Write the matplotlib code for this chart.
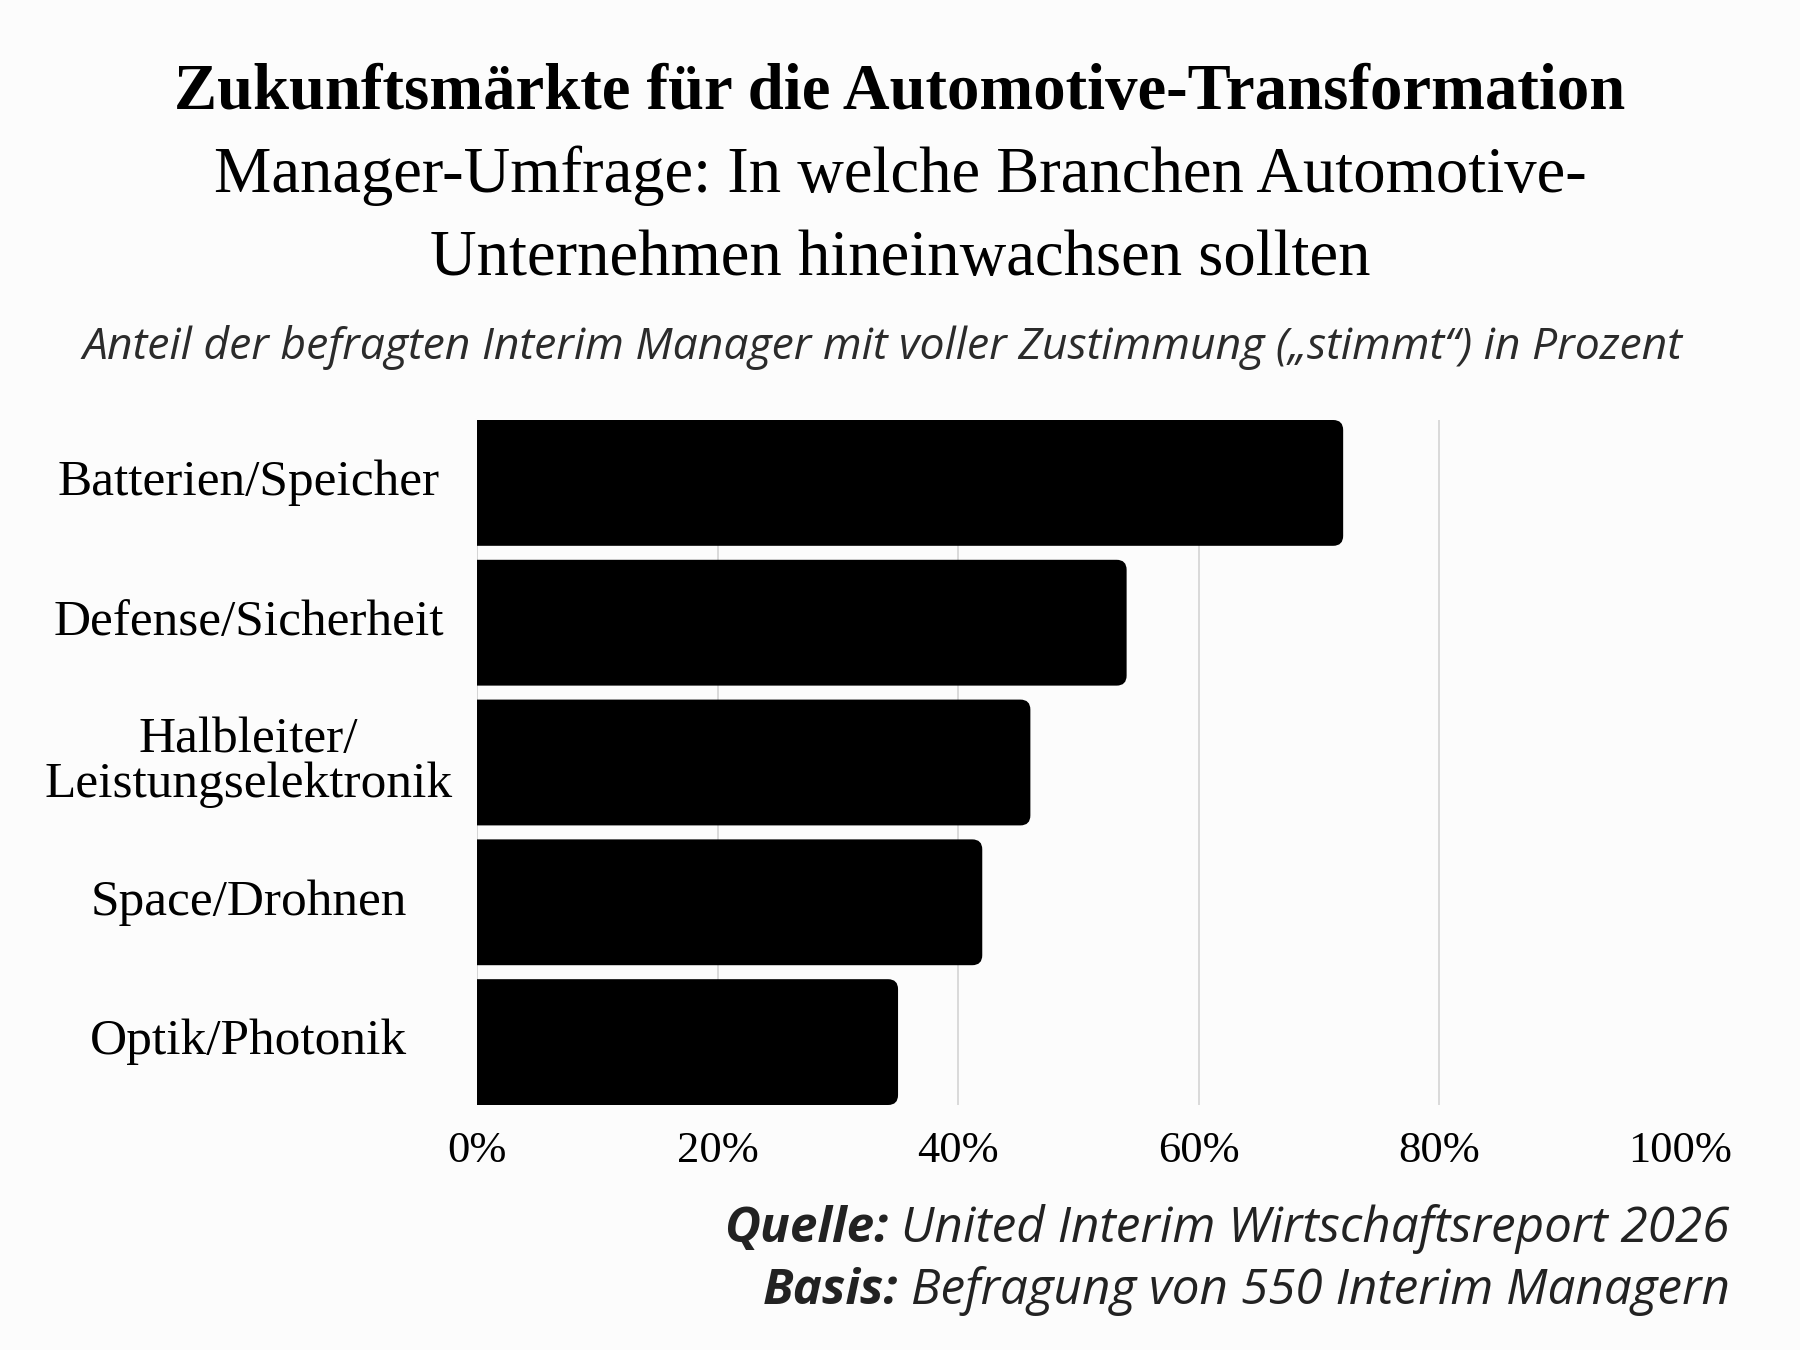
import matplotlib
matplotlib.use("Agg")
import matplotlib.pyplot as plt
from matplotlib.patches import PathPatch
from matplotlib.path import Path

categories = ["Batterien/Speicher", "Defense/Sicherheit", "Halbleiter/\nLeistungselektronik",
              "Space/Drohnen", "Optik/Photonik"]
values = [72, 54, 46, 42, 35]
xticks = [0, 20, 40, 60, 80, 100]
xticklabels = ["0%", "20%", "40%", "60%", "80%", "100%"]

title = "Zukunftsmärkte für die Automotive-Transformation"
subtitle1 = "Manager-Umfrage: In welche Branchen Automotive-"
subtitle2 = "Unternehmen hineinwachsen sollten"
note = "Anteil der befragten Interim Manager mit voller Zustimmung („stimmt“) in Prozent"
src_bold, src_text = "Quelle:", " United Interim Wirtschaftsreport 2026"
base_bold, base_text = "Basis:", " Befragung von 550 Interim Managern"

BG = "#fcfcfc"
SERIF = "Liberation Serif"
SANS = "Open Sans"

fig = plt.figure(figsize=(18, 13.5), dpi=100, facecolor=BG)
ax = fig.add_axes([477/1800, 1-1105/1350, (1680-477)/1800, (1105-420)/1350])
ax.set_facecolor(BG)

h = 0.9
ypos = list(range(len(categories)))
bars = ax.barh(ypos, values, height=h, color="black", zorder=3)
ax.set_xlim(0, 100)
ax.set_ylim(len(categories) - 1 + h/2, -h/2)

# rounded right corners (radius ~10 px)
px_x = 1203 / 100.0
px_y = 685 / (len(categories) - 1 + h)
rx, ry = 10 / px_x, 10 / px_y
for b in bars:
    x0, y0 = b.get_x(), b.get_y()
    x1, y1 = x0 + b.get_width(), y0 + b.get_height()
    b.set_visible(False)
    verts = [(x0, y0), (x1 - rx, y0), (x1, y0), (x1, y0 + ry),
             (x1, y1 - ry), (x1, y1), (x1 - rx, y1), (x0, y1), (x0, y0)]
    codes = [Path.MOVETO, Path.LINETO, Path.CURVE3, Path.CURVE3,
             Path.LINETO, Path.CURVE3, Path.CURVE3, Path.LINETO, Path.CLOSEPOLY]
    ax.add_patch(PathPatch(Path(verts, codes), fc="black", ec="none", zorder=3))

ax.set_xticks(xticks)
ax.set_xticklabels(xticklabels, fontfamily=SERIF, fontsize=32)
ax.tick_params(axis="x", length=0, pad=19)
ax.set_yticks(ypos)
ax.set_yticklabels([])
ax.tick_params(axis="y", length=0)
for i, c in enumerate(categories):
    ax.text(-19.0, i, c, ha="center", va="center", fontfamily=SERIF,
            fontsize=37, linespacing=0.95, transform=ax.transData)
for gx in xticks[1:-1]:
    ax.axvline(gx, color="#d4d4d4", linewidth=1.2, zorder=0)
for s in ax.spines.values():
    s.set_visible(False)
ax.axvline(0, color="#cccccc", linewidth=1.2, zorder=1)

fig.text(0.5, 1-93/1350, title, ha="center", va="center", fontfamily=SERIF,
         fontweight="bold", fontsize=46.5)
fig.text(0.5, 1-176/1350, subtitle1, ha="center", va="center", fontfamily=SERIF, fontsize=46.5)
fig.text(0.5, 1-259/1350, subtitle2, ha="center", va="center", fontfamily=SERIF, fontsize=46.5)
fig.text(0.49, 1-347/1350, note, ha="center", va="center", fontfamily=SANS,
         style="italic", fontsize=32.0, color="#2b2b2b")

renderer = fig.canvas.get_renderer()
for yy, bt, tt in [(1229, src_bold, src_text), (1291, base_bold, base_text)]:
    t2 = fig.text(1730/1800, 1-yy/1350, tt, ha="right", va="center", fontfamily=SANS,
                  style="italic", fontsize=35.6, color="#222222")
    bb = t2.get_window_extent(renderer)
    fig.text(bb.x0/1800, 1-yy/1350, bt, ha="right", va="center", fontfamily=SANS,
             style="italic", fontweight="bold", fontsize=35.6, color="#222222")

fig.savefig("out.png", dpi=100, facecolor=BG)
